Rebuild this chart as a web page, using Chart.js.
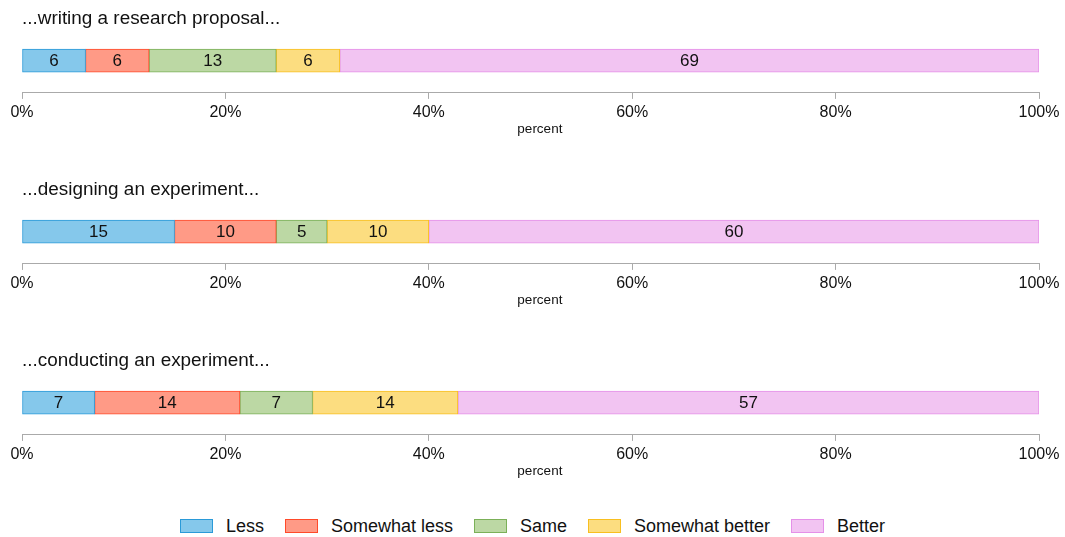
<!DOCTYPE html>
<html>
<head>
<meta charset="utf-8">
<script src="https://cdn.jsdelivr.net/npm/chart.js@4/dist/chart.umd.min.js"></script>
<style>
  body { margin: 0; background: #fff; font-family: "Liberation Sans", Arial, sans-serif; }
  #wrap { position: relative; width: 1065px; height: 537px; }
  .panel { position: absolute; left: 0; width: 1065px; height: 138px; }
  #legend { position: absolute; left: 0; top: 515px; width: 1065px; display: flex; justify-content: center; font-size: 18px; line-height: 22px; color: #111; }
  .item { display: flex; align-items: center; margin: 0 10.5px; }
  .box { width: 31px; height: 12px; border: 1px solid; margin-right: 13px; }
</style>
</head>
<body>
<div id="wrap">
  <div class="panel" style="top:0px"><canvas id="c1"></canvas></div>
  <div class="panel" style="top:171px"><canvas id="c2"></canvas></div>
  <div class="panel" style="top:342px"><canvas id="c3"></canvas></div>
  <div id="legend"></div>
</div>
<script>
// answer categories and colours
const categories = ["Less", "Somewhat less", "Same", "Somewhat better", "Better"];
const fillColors = ["#85c8eb", "#ff9a86", "#bcd8a4", "#fcdd80", "#f2c4f2"];
const lineColors = ["#2a9ad8", "#ff4a2a", "#7bb058", "#f8bf20", "#e590e8"];

// panel titles
const titles = ["...writing a research proposal...", "...designing an experiment...", "...conducting an experiment..."];

// percent of answers per panel (labels show rounded values)
const proposal = [6.25, 6.25, 12.5, 6.25, 68.75];
const designing = [15, 10, 5, 10, 60];
const conducting = [7.14, 14.29, 7.14, 14.29, 57.14];

const xTicks = [0, 20, 40, 60, 80, 100];

const FONT = "'Liberation Sans', Arial, sans-serif";

const barLabels = {
  id: "barLabels",
  afterDatasetsDraw(chart) {
    const c = chart.ctx;
    c.save();
    c.font = "17px " + FONT;
    c.fillStyle = "#111";
    c.textAlign = "center";
    c.textBaseline = "middle";
    chart.data.datasets.forEach((ds, i) => {
      const bar = chart.getDatasetMeta(i).data[0];
      const cx = (bar.x + bar.base) / 2;
      c.fillText(Math.round(ds.data[0]), cx, bar.y + 1);
    });
    c.restore();
  }
};

function makePanel(id, title, values) {
  const datasets = categories.map((cat, i) => ({
    label: cat,
    data: [values[i]],
    backgroundColor: fillColors[i],
    borderColor: lineColors[i],
    borderWidth: 1,
    borderSkipped: false,
    barThickness: 23
  }));
  new Chart(document.getElementById(id), {
    type: "bar",
    data: { labels: [""], datasets: datasets },
    options: {
      indexAxis: "y",
      responsive: true,
      maintainAspectRatio: false,
      animation: false,
      layout: { padding: { left: 22, right: 26, top: 9, bottom: 0 } },
      plugins: {
        legend: { display: false },
        tooltip: { enabled: false },
        title: {
          display: true,
          text: title,
          align: "start",
          color: "#111",
          font: { size: 18.9, weight: "normal", family: FONT, lineHeight: 1 },
          padding: { top: 0, bottom: 0.6 }
        }
      },
      scales: {
        x: {
          stacked: true,
          min: 0,
          max: 100,
          afterBuildTicks(axis) { axis.ticks = xTicks.map(v => ({ value: v })); },
          grid: { drawOnChartArea: false, drawTicks: true, tickLength: 6, color: "#aaa" },
          border: { display: true, color: "#aaa" },
          ticks: {
            padding: 5,
            maxRotation: 0,
            color: "#111",
            font: { size: 16, family: FONT, lineHeight: 1.1 },
            callback: v => v + "%"
          },
          title: {
            display: true,
            // leading spaces nudge the label right, as in the original
            text: "\u00a0\u00a0\u00a0\u00a0\u00a0percent",
            color: "#111",
            font: { size: 13.5, family: FONT, lineHeight: 1 },
            padding: { top: -4, bottom: 2 }
          }
        },
        y: { stacked: true, display: false }
      }
    },
    plugins: [barLabels]
  });
}

makePanel("c1", titles[0], proposal);
makePanel("c2", titles[1], designing);
makePanel("c3", titles[2], conducting);

const legend = document.getElementById("legend");
categories.forEach((cat, i) => {
  const item = document.createElement("div");
  item.className = "item";
  const box = document.createElement("span");
  box.className = "box";
  box.style.background = fillColors[i];
  box.style.borderColor = lineColors[i];
  item.appendChild(box);
  item.appendChild(document.createTextNode(cat));
  legend.appendChild(item);
});
</script>
</body>
</html>
